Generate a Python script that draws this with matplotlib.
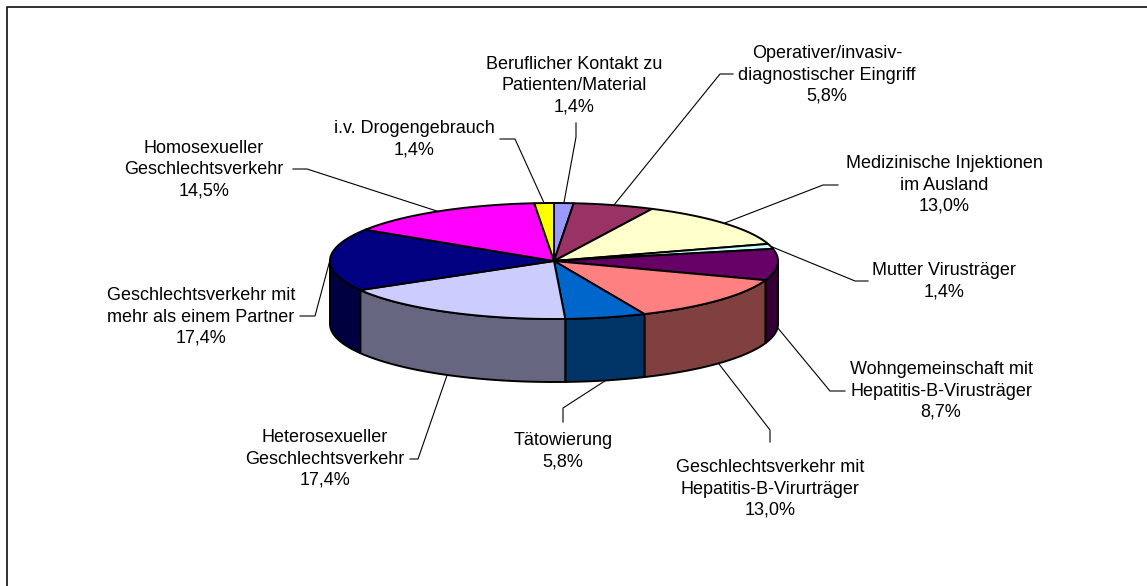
import numpy as np
import matplotlib.pyplot as plt
from matplotlib.patches import Polygon
from matplotlib.colors import to_rgb

plt.rcParams['font.family'] = ['Liberation Sans', 'DejaVu Sans']

# Infektionswege, im Uhrzeigersinn ab 12 Uhr
categories = [
    'Beruflicher Kontakt zu\nPatienten/Material',
    'Operativer/invasiv-\ndiagnostischer Eingriff',
    'Medizinische Injektionen\nim Ausland',
    'Mutter Virusträger',
    'Wohngemeinschaft mit\nHepatitis-B-Virusträger',
    'Geschlechtsverkehr mit\nHepatitis-B-Virurträger',
    'Tätowierung',
    'Heterosexueller\nGeschlechtsverkehr',
    'Geschlechtsverkehr mit\nmehr als einem Partner',
    'Homosexueller\nGeschlechtsverkehr',
    'i.v. Drogengebrauch',
]
values = [1.4, 5.8, 13.0, 1.4, 8.7, 13.0, 5.8, 17.4, 17.4, 14.5, 1.4]
colors = ['#9999FF', '#993366', '#FFFFCC', '#CCFFFF', '#660066', '#FF8080',
          '#0066CC', '#CCCCFF', '#000080', '#FF00FF', '#FFFF00']

# label layout (pixels): text centre, leader elbow, leader end
label_pos = [(574, 86), (827, 75), (944, 185), (944, 281), (941, 391), (770, 489),
             (563, 451), (325, 459), (201, 317), (204, 170), (414, 139)]
elbows = [(576, 137), (720, 74), (823, 185), (855, 281), (830, 391), (770, 430),
          (563, 408), (418, 459), (315, 316), (307, 169), (515, 139)]
ends = [(576, 123), (733, 74), (838, 185), (868, 281), (845, 391), (770, 442),
        (563, 422), (410, 459), (300, 316), (293, 169), (500, 139)]

W, H = 1147, 586
fig = plt.figure(figsize=(W / 100, H / 100), dpi=100)
ax = fig.add_axes([0, 0, 1, 1])
ax.set_xlim(0, W)
ax.set_ylim(H, 0)
ax.axis('off')

# chart frame (runs off the right and bottom edge)
ax.plot([7, 7, W + 5], [H + 5, 7, 7], color='#202020', lw=1.3)

cx, cy, rx, ry, depth = 554, 261, 224, 58, 63


def rim(theta, drop=0.0):
    return cx + rx * np.sin(theta), cy - ry * np.cos(theta) + drop


total = sum(values)
bounds = np.concatenate([[0], np.cumsum(values)]) / total * 2 * np.pi

# side walls of the front half
for i, c in enumerate(colors):
    a = max(bounds[i], np.pi / 2)
    b = min(bounds[i + 1], 3 * np.pi / 2)
    if a >= b:
        continue
    t = np.linspace(a, b, 80)
    xt, yt = rim(t)
    xb, yb = rim(t[::-1], depth)
    pts = np.column_stack([np.concatenate([xt, xb]), np.concatenate([yt, yb])])
    dark = tuple(0.5 * v for v in to_rgb(c))
    ax.add_patch(Polygon(pts, closed=True, facecolor=dark, edgecolor='black', lw=1.4,
                         joinstyle='round'))

# top faces
for i, c in enumerate(colors):
    t = np.linspace(bounds[i], bounds[i + 1], 120)
    xt, yt = rim(t)
    pts = np.column_stack([np.concatenate([[cx], xt]), np.concatenate([[cy], yt])])
    ax.add_patch(Polygon(pts, closed=True, facecolor=c, edgecolor='black', lw=1.4,
                         joinstyle='round'))

# leader lines and labels
for i, name in enumerate(categories):
    mid = (bounds[i] + bounds[i + 1]) / 2
    ax_, ay_ = rim(mid, depth if np.cos(mid) < 0 else 0)
    ax.plot([ax_, elbows[i][0], ends[i][0]], [ay_, elbows[i][1], ends[i][1]],
            color='black', lw=0.8)
    pct = f'{values[i]:.1f}'.replace('.', ',') + '%'
    ax.text(label_pos[i][0], label_pos[i][1], f'{name}\n{pct}', ha='center', va='center',
            multialignment='center', fontsize=13, linespacing=1.33, color='black')

fig.savefig('out.png', dpi=100)
